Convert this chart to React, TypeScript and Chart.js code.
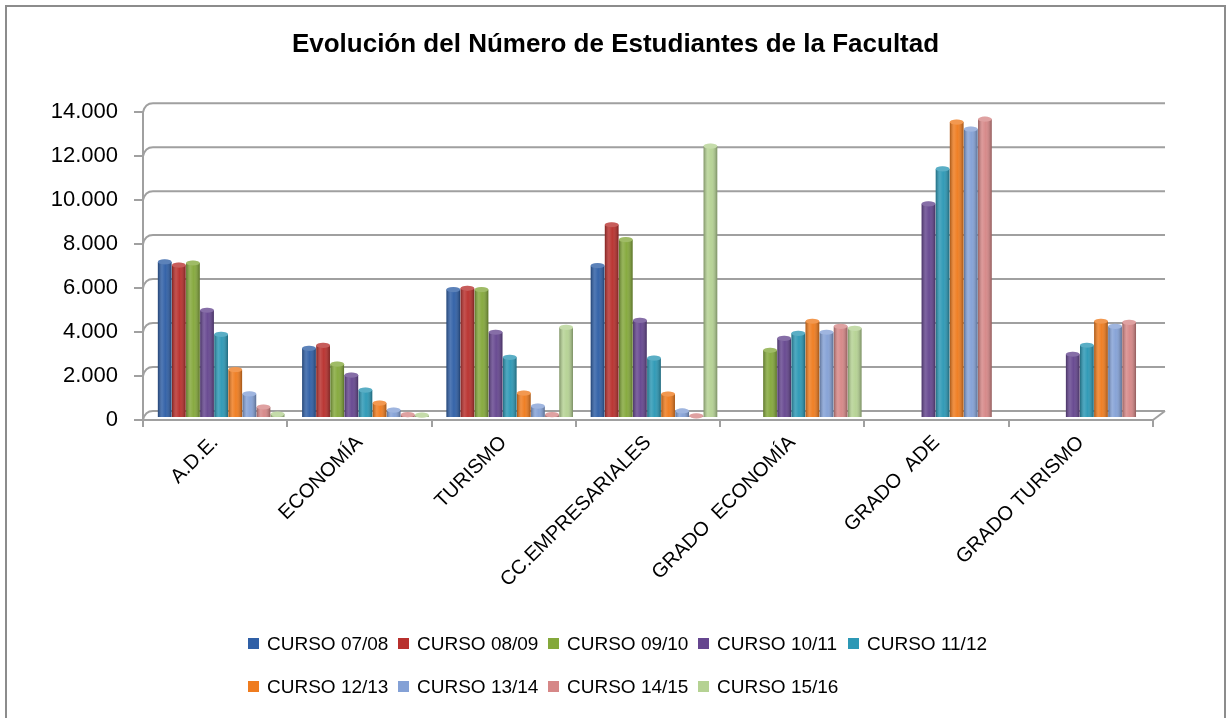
import React, { useEffect, useRef } from "react";
import { Chart, registerables } from "chart.js";

Chart.register(...registerables);

const categories = [
  "A.D.E.",
  "ECONOMÍA",
  "TURISMO",
  "CC.EMPRESARIALES",
  "GRADO  ECONOMÍA",
  "GRADO  ADE",
  "GRADO TURISMO",
];

const seriesNames = [
  "CURSO 07/08",
  "CURSO 08/09",
  "CURSO 09/10",
  "CURSO 10/11",
  "CURSO 11/12",
  "CURSO 12/13",
  "CURSO 13/14",
  "CURSO 14/15",
  "CURSO 15/16",
];

const curso0708 = [7100, 3170, 5840, 6930, null, null, null];
const curso0809 = [6950, 3300, 5900, 8790, null, null, null];
const curso0910 = [7050, 2450, 5840, 8110, 3080, null, null];
const curso1011 = [4900, 1950, 3900, 4440, 3620, 9740, 2900];
const curso1112 = [3800, 1270, 2760, 2720, 3850, 11330, 3310];
const curso1213 = [2200, 680, 1130, 1090, 4400, 13460, 4400];
const curso1314 = [1100, 360, 540, 320, 3900, 13140, 4170];
const curso1415 = [500, 150, 150, 100, 4170, 13590, 4350];
const curso1516 = [180, 130, 4120, 12370, 4080, null, null];

const seriesValues = [
  curso0708, curso0809, curso0910, curso1011, curso1112,
  curso1213, curso1314, curso1415, curso1516,
];

const seriesColors = [
  "#2F5FA6", "#B8302D", "#84A83B", "#65468F", "#2C98B5",
  "#EF7C1F", "#84A1D6", "#D68787", "#B5D293",
];

const yTickLabels = ["0", "2.000", "4.000", "6.000", "8.000", "10.000", "12.000", "14.000"];

const titleText = "Evolución del Número de Estudiantes de la Facultad";

const FONT = "'Liberation Sans', Arial, sans-serif";
const GRID = "#a0a0a0";

// 3D look: back wall gridlines, floor edge, and bars drawn at depth with cylinder shading
const depthPlugin = {
  id: "depth3d",
  beforeDatasetsDraw(chart: any) {
    const { ctx, chartArea, scales } = chart;
    const { left, right, bottom } = chartArea;
    const y = scales.y;
    const dx = 10;
    const dy = 9;
    ctx.save();
    ctx.strokeStyle = GRID;
    ctx.lineWidth = 2;
    y.ticks.forEach((t: any) => {
      const py = y.getPixelForValue(t.value);
      ctx.beginPath();
      ctx.moveTo(left, py);
      ctx.quadraticCurveTo(left + 2, py - dy, left + dx, py - dy);
      ctx.lineTo(right + dx + 2, py - dy);
      ctx.stroke();
    });
    ctx.beginPath();
    ctx.moveTo(right, bottom);
    ctx.lineTo(right + dx + 2, bottom - dy);
    ctx.stroke();
    ctx.restore();
    ctx.save();
    ctx.translate(6, -2);
  },
  afterDatasetsDraw(chart: any) {
    const ctx = chart.ctx;
    chart.data.datasets.forEach((ds: any, di: number) => {
      const meta = chart.getDatasetMeta(di);
      meta.data.forEach((el: any, i: number) => {
        if (ds.data[i] == null) return;
        const { x, y, base, width } = el.getProps(["x", "y", "base", "width"], true);
        if (!isFinite(y)) return;
        const l = x - width / 2;
        const g = ctx.createLinearGradient(l, 0, l + width, 0);
        g.addColorStop(0, "rgba(0,0,0,0.30)");
        g.addColorStop(0.3, "rgba(255,255,255,0.16)");
        g.addColorStop(0.55, "rgba(255,255,255,0.03)");
        g.addColorStop(1, "rgba(0,0,0,0.32)");
        ctx.save();
        ctx.fillStyle = g;
        ctx.fillRect(l, y, width, base - y);
        ctx.beginPath();
        ctx.ellipse(x, y, width / 2, 2.6, 0, 0, Math.PI * 2);
        ctx.fillStyle = ds.backgroundColor;
        ctx.fill();
        ctx.fillStyle = "rgba(255,255,255,0.22)";
        ctx.fill();
        ctx.restore();
      });
    });
    ctx.restore();
  },
};

const legendPlugin = {
  id: "legendRows",
  afterDraw(chart: any) {
    const ctx = chart.ctx;
    const x0 = 241;
    const colW = 150;
    const rowY = [637, 680];
    ctx.save();
    ctx.font = `19px ${FONT}`;
    ctx.textBaseline = "middle";
    ctx.textAlign = "left";
    chart.data.datasets.forEach((ds: any, i: number) => {
      const row = i < 5 ? 0 : 1;
      const col = row === 0 ? i : i - 5;
      const bx = x0 + col * colW;
      const cy = rowY[row];
      ctx.fillStyle = ds.backgroundColor;
      ctx.fillRect(bx, cy - 6, 11, 11);
      ctx.fillStyle = "#000";
      ctx.fillText(ds.label, bx + 19, cy + 1);
    });
    ctx.restore();
  },
};

export default function App() {
  const ref = useRef<HTMLCanvasElement | null>(null);

  useEffect(() => {
    if (!ref.current) return;
    const chart = new Chart(ref.current, {
      type: "bar",
      data: {
        labels: categories,
        datasets: seriesNames.map((name, i) => ({
          label: name,
          data: seriesValues[i],
          backgroundColor: seriesColors[i],
          borderWidth: 0,
          categoryPercentage: 0.88,
          barPercentage: 0.97,
        })),
      },
      options: {
        responsive: false,
        animation: false,
        events: [],
        layout: { padding: { left: 0, right: 0, top: 0, bottom: 98 } },
        plugins: {
          legend: { display: false },
          tooltip: { enabled: false },
          title: {
            display: true,
            text: titleText,
            color: "#000",
            font: { family: FONT, size: 26, weight: "bold", lineHeight: 1.2 },
            padding: { top: 22, bottom: 52 },
          },
        },
        scales: {
          x: {
            type: "category",
            grid: {
              offset: true,
              drawOnChartArea: false,
              drawTicks: true,
              tickLength: 7,
              color: GRID,
              lineWidth: 2,
            },
            border: { display: true, color: GRID, width: 2 },
            ticks: {
              autoSkip: false,
              minRotation: 45,
              maxRotation: 45,
              padding: 4,
              color: "#000",
              font: { family: FONT, size: 20 },
            },
            afterFit(scale: any) {
              scale.height = 200;
            },
          },
          y: {
            min: 0,
            max: 14000,
            grid: {
              drawOnChartArea: false,
              drawTicks: true,
              tickLength: 9,
              color: GRID,
              lineWidth: 2,
            },
            border: { display: true, color: GRID, width: 2 },
            ticks: {
              stepSize: 2000,
              padding: 16,
              color: "#000",
              font: { family: FONT, size: 22 },
              callback: (v: any) => yTickLabels[Math.round(Number(v) / 2000)],
            },
            afterFit(scale: any) {
              scale.width = 136;
            },
          },
          yRight: {
            position: "right",
            display: true,
            grid: { display: false },
            border: { display: false },
            ticks: { display: false },
            afterFit(scale: any) {
              scale.width = 71;
            },
          },
        },
      },
      plugins: [depthPlugin, legendPlugin],
    } as any);
    return () => chart.destroy();
  }, []);

  return (
    <div
      style={{
        position: "fixed",
        left: 0,
        top: 0,
        width: 1227,
        height: 718,
        overflow: "hidden",
        background: "#fff",
      }}
    >
      <div
        style={{
          position: "absolute",
          left: 5,
          top: 5,
          width: 1221,
          height: 740,
          border: "2px solid #8c8c8c",
          boxSizing: "border-box",
        }}
      >
        <canvas ref={ref} width={1217} height={711} style={{ display: "block" }} />
      </div>
    </div>
  );
}
